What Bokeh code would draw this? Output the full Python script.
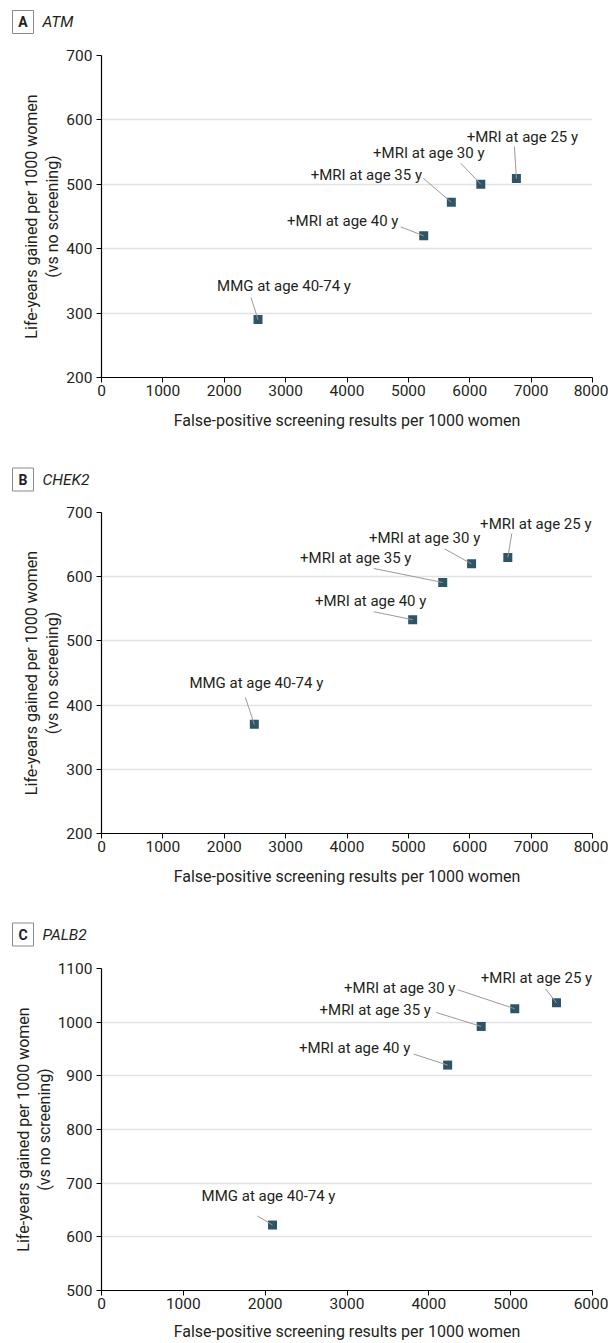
from bokeh.plotting import figure
from bokeh.models import Range1d, FixedTicker, ColumnDataSource
from bokeh.layouts import column
from bokeh.embed import file_html
from bokeh.resources import INLINE
from bokeh.core.properties import value

# ---------------- data ----------------
strategies = ["MMG at age 40-74 y", "+MRI at age 40 y", "+MRI at age 35 y",
              "+MRI at age 30 y", "+MRI at age 25 y"]

atm_fp = [2550, 5250, 5700, 6180, 6760]
atm_ly = [290, 420, 472, 500, 509]

chek2_fp = [2490, 5070, 5560, 6030, 6620]
chek2_ly = [370, 533, 591, 620, 630]

palb2_fp = [2090, 4230, 4640, 5050, 5560]
palb2_ly = [622, 920, 992, 1025, 1036]

x_ticks_ab = [0, 1000, 2000, 3000, 4000, 5000, 6000, 7000, 8000]
y_ticks_ab = [200, 300, 400, 500, 600, 700]
x_ticks_c = [0, 1000, 2000, 3000, 4000, 5000, 6000]
y_ticks_c = [500, 600, 700, 800, 900, 1000, 1100]

x_title = "False-positive screening results per 1000 women"
y_title = "Life-years gained per 1000 women\n(vs no screening)"

# ---------------- styling / layout ----------------
FONT = "Roboto"
TXT = "#231f20"
MARK = "#2e5567"
LEAD = "#9a9a9a"
W = 608
LEFT = 101
FRAME_W = 491
RIGHT = W - LEFT - FRAME_W

# label offsets in screen px (dx right, dy up) relative to each point
txt_off_a = [(26, 34), (-81, 15), (-85, 27), (-52, 31), (6, 42)]
lead_off_a = [(-7, 22), (-23, 9), (-28, 24), (-20, 21), (-2, 32)]
txt_off_b = [(2, 41), (-42, 19), (-87, 24), (-47, 26), (28, 33)]
lead_off_b = [(-9, 27), (-39, 8), (-69, 14), (-27, 15), (4, 24)]
txt_off_c = [(-4, 29), (-93, 17), (-106, 16), (-115, 21), (-20, 25)]
lead_off_c = [(-15, 9), (-34, 11), (-45, 14), (-57, 19), (-11, 14)]


def make_header(letter, gene, h, cy):
    p = figure(width=W, height=h, output_backend="svg", toolbar_location=None,
               x_range=Range1d(0, W), y_range=Range1d(0, h),
               min_border=0, x_axis_location=None, y_axis_location=None,
               frame_align=False)
    p.outline_line_color = None
    p.xgrid.visible = False
    p.ygrid.visible = False
    y = h - cy
    p.quad(left=[12], right=[33], bottom=[y - 11.5], top=[y + 11.5],
           fill_color="white", line_color="#8a8a8a", line_width=1)
    p.text(x=[22.5], y=[y], text=[letter], text_font=value(FONT),
           text_font_size="14px", text_font_style="bold", text_color=TXT,
           text_align="center", text_baseline="middle")
    p.text(x=[42], y=[y], text=[gene], text_font=value(FONT),
           text_font_size="15.5px", text_font_style="italic", text_color=TXT,
           text_align="left", text_baseline="middle")
    return p


def make_panel(xs, ys, xticks, yticks, top, frame_h, bottom,
               txt_off, lead_off, title_standoff):
    h = top + frame_h + bottom
    p = figure(width=W, height=h, output_backend="svg", toolbar_location=None,
               x_range=Range1d(xticks[0], xticks[-1]),
               y_range=Range1d(yticks[0], yticks[-1]),
               min_border_left=LEFT, min_border_right=RIGHT,
               min_border_top=top, min_border_bottom=bottom)
    p.outline_line_color = None
    p.background_fill_color = "white"
    p.border_fill_color = "white"

    p.xgrid.grid_line_color = None
    p.ygrid.grid_line_color = "#e2e2e2"
    p.ygrid.grid_line_width = 1.5

    p.xaxis.ticker = FixedTicker(ticks=xticks)
    p.yaxis.ticker = FixedTicker(ticks=yticks)
    for ax in (p.xaxis, p.yaxis):
        ax.axis_line_color = "black"
        ax.axis_line_width = 1.2
        ax.major_tick_line_color = "black"
        ax.major_tick_in = 0
        ax.major_tick_out = 5
        ax.minor_tick_line_color = None
        ax.major_label_text_font = FONT
        ax.major_label_text_font_size = "15.5px"
        ax.major_label_text_color = TXT
        ax.axis_label_text_font = FONT
        ax.axis_label_text_font_size = "16px"
        ax.axis_label_text_font_style = "normal"
        ax.axis_label_text_color = TXT
        ax.axis_label_text_line_height = 1.1
    p.xaxis.major_label_standoff = 2
    p.yaxis.major_label_standoff = 4
    p.xaxis.axis_label = x_title
    p.yaxis.axis_label = y_title
    p.xaxis.axis_label_standoff = title_standoff
    p.yaxis.axis_label_standoff = 1

    sx = (xticks[-1] - xticks[0]) / FRAME_W
    sy = (yticks[-1] - yticks[0]) / frame_h
    tx = [x + d[0] * sx for x, d in zip(xs, txt_off)]
    ty = [y + d[1] * sy for y, d in zip(ys, txt_off)]
    lx = [x + d[0] * sx for x, d in zip(xs, lead_off)]
    ly = [y + d[1] * sy for y, d in zip(ys, lead_off)]

    src = ColumnDataSource(dict(x=xs, y=ys, tx=tx, ty=ty, lx=lx, ly=ly, t=strategies))
    p.scatter("x", "y", source=src, marker="square", size=9,
              fill_color=MARK, line_color=None)
    p.segment(x0="lx", y0="ly", x1="x", y1="y", source=src,
              line_color=LEAD, line_width=1)
    p.text("tx", "ty", text="t", source=src, text_font=value(FONT),
           text_font_size="15px", text_align="center", text_baseline="middle",
           text_color=TXT)
    return p


ha = make_header("A", "ATM", 36, 21.5)
pa = make_panel(atm_fp, atm_ly, x_ticks_ab, y_ticks_ab,
                19, 322, 87, txt_off_a, lead_off_a, 12)
hb = make_header("B", "CHEK2", 30, 15)
pb = make_panel(chek2_fp, chek2_ly, x_ticks_ab, y_ticks_ab,
                18, 321, 86, txt_off_b, lead_off_b, 12)
hc = make_header("C", "PALB2", 30, 15)
pc = make_panel(palb2_fp, palb2_ly, x_ticks_c, y_ticks_c,
                19, 322, 53, txt_off_c, lead_off_c, 10)

layout = column(ha, pa, hb, pb, hc, pc, spacing=0)
open("out.html", "w").write(file_html(layout, INLINE))
